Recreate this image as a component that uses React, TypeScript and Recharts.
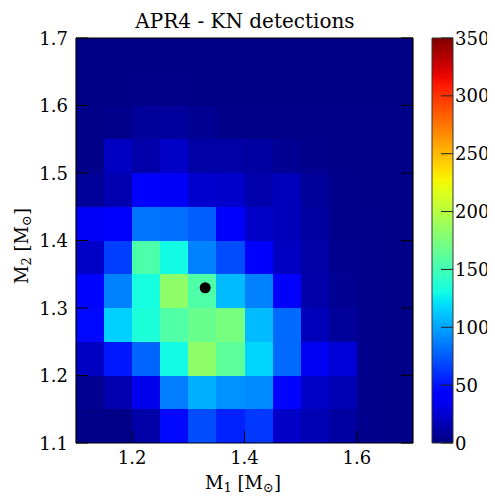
import React from 'react';
import { ScatterChart, Scatter, BarChart, Bar, XAxis, YAxis, ReferenceArea } from 'recharts';

// Bin edges of the 2D histogram (solar masses)
const m1Edges = [1.1, 1.15, 1.2, 1.25, 1.3, 1.35, 1.4, 1.45, 1.5, 1.55, 1.6, 1.65, 1.7];
const m2Edges = [1.1, 1.15, 1.2, 1.25, 1.3, 1.35, 1.4, 1.45, 1.5, 1.55, 1.6, 1.65, 1.7];

// Detection counts per row of M2 bins, listed from M1 = 1.10 upward
const countsM2_110 = [3, 3, 12, 46, 70, 55, 63, 22, 16, 10, 4, 3];
const countsM2_115 = [6, 15, 33, 87, 104, 94, 91, 45, 22, 16, 4, 3];
const countsM2_120 = [20, 52, 78, 130, 183, 162, 117, 80, 35, 27, 4, 3];
const countsM2_125 = [46, 115, 135, 157, 167, 173, 108, 80, 18, 8, 4, 3];
const countsM2_130 = [45, 88, 132, 183, 156, 108, 88, 42, 13, 6, 4, 3];
const countsM2_135 = [22, 65, 155, 130, 88, 70, 42, 20, 12, 5, 4, 3];
const countsM2_140 = [36, 42, 84, 82, 76, 42, 22, 18, 10, 4, 4, 3];
const countsM2_145 = [8, 15, 42, 36, 24, 23, 14, 18, 8, 4, 3, 3];
const countsM2_150 = [3, 20, 13, 22, 12, 12, 10, 6, 4, 3, 3, 3];
const countsM2_155 = [3, 4, 8, 9, 6, 3, 3, 3, 3, 3, 3, 3];
const countsM2_160 = [2, 2, 3, 3, 2, 2, 2, 2, 2, 2, 2, 2];
const countsM2_165 = [2, 2, 2, 2, 2, 2, 2, 2, 2, 2, 2, 2];

const countRows = [
  countsM2_110, countsM2_115, countsM2_120, countsM2_125,
  countsM2_130, countsM2_135, countsM2_140, countsM2_145,
  countsM2_150, countsM2_155, countsM2_160, countsM2_165,
];

// Reference system marker
const markerPoint = [{ m1: 1.33, m2: 1.33 }];

// Axis ticks
const m1Ticks = [1.2, 1.4, 1.6];
const m2Ticks = [1.1, 1.2, 1.3, 1.4, 1.5, 1.6, 1.7];
const colorTicks = [0, 50, 100, 150, 200, 250, 300, 350];
const colorMax = 350;
const colorBarData = [{ name: 'scale', top: colorMax }];

const TITLE = 'APR4 - KN detections';
const FONT = '"DejaVu Serif", serif';

// Jet colormap (piecewise linear in RGB)
const jetR: [number, number][] = [[0, 0], [0.35, 0], [0.66, 1], [0.89, 1], [1, 0.5]];
const jetG: [number, number][] = [[0, 0], [0.125, 0], [0.375, 1], [0.64, 1], [0.91, 0], [1, 0]];
const jetB: [number, number][] = [[0, 0.5], [0.11, 1], [0.34, 1], [0.65, 0], [1, 0]];

function lerpChannel(pts: [number, number][], t: number) {
  for (let i = 1; i < pts.length; i++) {
    if (t <= pts[i][0]) {
      const [t0, v0] = pts[i - 1];
      const [t1, v1] = pts[i];
      return v0 + ((v1 - v0) * (t - t0)) / (t1 - t0);
    }
  }
  return pts[pts.length - 1][1];
}

function jet(t: number) {
  const c = Math.max(0, Math.min(1, t));
  const to = (v: number) => Math.round(v * 255);
  return `rgb(${to(lerpChannel(jetR, c))},${to(lerpChannel(jetG, c))},${to(lerpChannel(jetB, c))})`;
}

const cells = countRows.flatMap((row, j) =>
  row.map((count, i) => ({
    x1: m1Edges[i],
    x2: m1Edges[i + 1],
    y1: m2Edges[j],
    y2: m2Edges[j + 1],
    color: jet(count / colorMax),
  })),
);

const gradientStops = Array.from({ length: 41 }, (_, k) => k / 40);

const BottomTick = (p: any) => (
  <g>
    <line x1={p.x} y1={p.y} x2={p.x} y2={p.y - 12} stroke="#000" strokeWidth={1} />
    <text x={p.x} y={p.y + 21} textAnchor="middle" fontFamily={FONT} fontSize={18} fill="#000">
      {Number(p.payload.value).toFixed(1)}
    </text>
  </g>
);

const TopTick = (p: any) => (
  <line x1={p.x} y1={p.y} x2={p.x} y2={p.y + 12} stroke="#000" strokeWidth={1} />
);

const LeftTick = (p: any) => (
  <g>
    <line x1={p.x} y1={p.y} x2={p.x + 12} y2={p.y} stroke="#000" strokeWidth={1} />
    <text x={p.x - 8} y={p.y + 6.5} textAnchor="end" fontFamily={FONT} fontSize={18} fill="#000">
      {Number(p.payload.value).toFixed(1)}
    </text>
  </g>
);

const RightTick = (p: any) => (
  <line x1={p.x} y1={p.y} x2={p.x - 12} y2={p.y} stroke="#000" strokeWidth={1} />
);

const ColorTick = (p: any) => (
  <g>
    <line x1={p.x} y1={p.y} x2={p.x - 12} y2={p.y} stroke="#222" strokeWidth={1} />
    <text x={p.x + 2} y={p.y + 6.5} textAnchor="start" fontFamily={FONT} fontSize={18} fill="#000">
      {p.payload.value}
    </text>
  </g>
);

const CellRect = (color: string) => (p: any) => (
  <rect x={p.x} y={p.y} width={p.width} height={p.height} fill={color} shapeRendering="crispEdges" />
);

const axisStroke = { stroke: '#000', strokeWidth: 1.2 };

// Small lowered index, e.g. the "1" in M1
const subStyle: React.CSSProperties = { fontSize: 13, lineHeight: 0, verticalAlign: '-0.2em' };

export default function App() {
  return (
    <div style={{ position: 'relative', width: 487, height: 489, background: '#fff' }}>
      <div
        style={{
          position: 'absolute', left: 0, top: 1, width: 474, lineHeight: '24px',
          textAlign: 'center', fontFamily: FONT, fontSize: 20, color: '#000',
        }}
      >
        {TITLE}
      </div>

      <div style={{ position: 'absolute', left: 0, top: 0 }}>
        <ScatterChart width={420} height={489} margin={{ top: 29, right: 14, bottom: 53, left: 67 }}>
          {cells.map((c, k) => (
            <ReferenceArea
              key={k}
              xAxisId="b"
              yAxisId="l"
              x1={c.x1}
              x2={c.x2}
              y1={c.y1}
              y2={c.y2}
              fill={c.color}
              fillOpacity={1}
              stroke="none"
              ifOverflow="visible"
              shape={CellRect(c.color)}
            />
          ))}
          <Scatter
            xAxisId="b"
            yAxisId="l"
            data={markerPoint}
            dataKey="m2"
            isAnimationActive={false}
            shape={(p: any) => <circle cx={p.cx} cy={p.cy} r={5.5} fill="#000" />}
          />
          <XAxis
            xAxisId="b"
            type="number"
            dataKey="m1"
            domain={[1.1, 1.7]}
            ticks={m1Ticks}
            interval={0}
            allowDataOverflow
            height={1}
            tickSize={0}
            tickMargin={0}
            tickLine={false}
            axisLine={axisStroke}
            tick={BottomTick}
          />
          <XAxis
            xAxisId="t"
            orientation="top"
            type="number"
            domain={[1.1, 1.7]}
            ticks={m1Ticks}
            interval={0}
            allowDataOverflow
            height={1}
            tickSize={0}
            tickMargin={0}
            tickLine={false}
            axisLine={axisStroke}
            tick={TopTick}
          />
          <YAxis
            yAxisId="l"
            type="number"
            dataKey="m2"
            domain={[1.1, 1.7]}
            ticks={m2Ticks}
            interval={0}
            allowDataOverflow
            width={1}
            tickSize={0}
            tickMargin={0}
            tickLine={false}
            axisLine={axisStroke}
            tick={LeftTick}
          />
          <YAxis
            yAxisId="r"
            orientation="right"
            type="number"
            domain={[1.1, 1.7]}
            ticks={m2Ticks}
            interval={0}
            allowDataOverflow
            width={1}
            tickSize={0}
            tickMargin={0}
            tickLine={false}
            axisLine={axisStroke}
            tick={RightTick}
          />
        </ScatterChart>
      </div>

      <div style={{ position: 'absolute', left: 404, top: 0 }}>
        <BarChart
          width={83}
          height={489}
          data={colorBarData}
          margin={{ top: 30, right: 41, bottom: 54, left: 20 }}
          barCategoryGap={0}
        >
          <defs>
            <linearGradient id="jetBar" x1="0" y1="1" x2="0" y2="0">
              {gradientStops.map((s) => (
                <stop key={s} offset={s} stopColor={jet(s)} />
              ))}
            </linearGradient>
          </defs>
          <XAxis dataKey="name" hide />
          <Bar
            dataKey="top"
            fill="url(#jetBar)"
            stroke="#333"
            strokeWidth={1}
            isAnimationActive={false}
          />
          <YAxis
            orientation="right"
            type="number"
            domain={[0, colorMax]}
            ticks={colorTicks}
            interval={0}
            width={1}
            tickSize={0}
            tickMargin={0}
            tickLine={false}
            axisLine={false}
            tick={ColorTick}
          />
        </BarChart>
      </div>

      <div
        style={{
          position: 'absolute', left: 0, top: 464, width: 470, height: 22, lineHeight: '22px',
          textAlign: 'center', fontFamily: FONT, fontSize: 18, color: '#000',
        }}
      >
        M<span style={subStyle}>1</span> [M<span style={subStyle}>⊙</span>]
      </div>

      <div
        style={{
          position: 'absolute', left: 14, top: 238, width: 0, height: 0,
        }}
      >
        <div
          style={{
            position: 'absolute', left: -60, top: -12, width: 120, lineHeight: '24px',
            textAlign: 'center', fontFamily: FONT, fontSize: 18, color: '#000',
            transform: 'rotate(-90deg)', whiteSpace: 'nowrap',
          }}
        >
          M<span style={subStyle}>2</span> [M<span style={subStyle}>⊙</span>]
        </div>
      </div>
    </div>
  );
}
